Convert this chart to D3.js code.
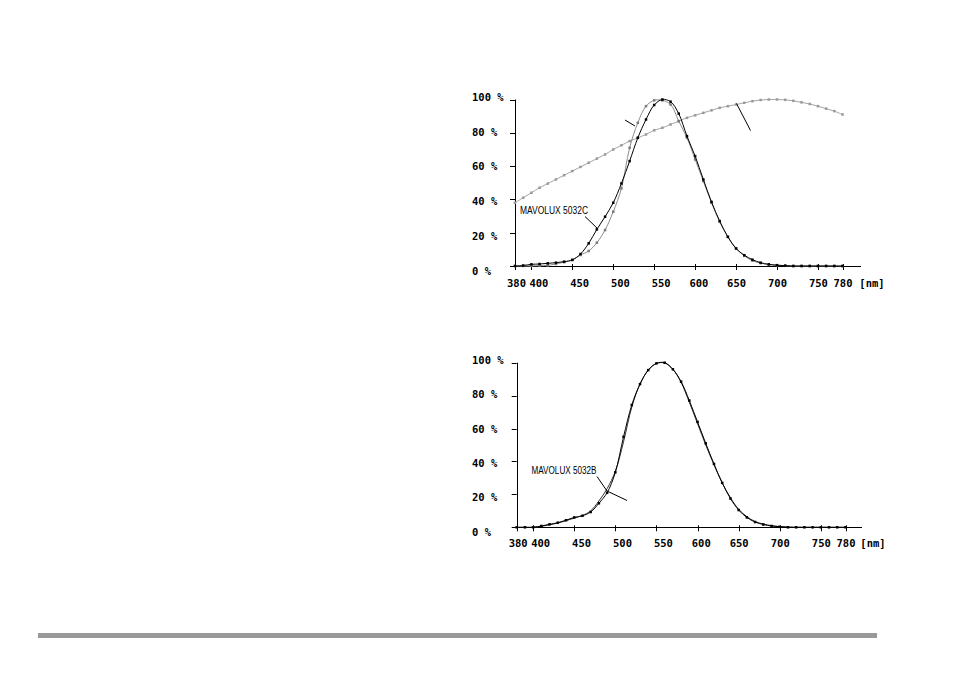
<!DOCTYPE html>
<html><head><meta charset="utf-8">
<script src="https://cdn.jsdelivr.net/npm/d3@7"></script>
<style>
html,body{margin:0;padding:0;background:#fff;}
svg{display:block;}
</style></head>
<body>
<svg id="c" width="954" height="677"></svg>
<script>
// ---------- data ----------
const wavelengths = [380,390,400,410,420,430,440,450,460,470,480,490,500,510,520,530,540,550,560,570,580,590,600,610,620,630,640,650,660,670,680,690,700,710,720,730,740,750,760,770,780];
const xTickValues = [380,400,450,500,550,600,650,700,750,780];
const yTickValues = [0,20,40,60,80,100];
const yTickLabels = ["0 %","20 %","40 %","60 %","80 %","100 %"];
const unitLabel = "[nm]";

// top chart
const topLamp   = [38,41,44,47,49.5,52,54.5,57,59.5,62,64.5,67,70,72.5,75,77,79,81.5,83,85,87,89,90.5,92,93.5,95,96,97,98,99,99.7,100,100,99.8,99.2,98.3,97.3,96,94.5,93,91];
const topSensorC= [0,0.3,1,1.2,1.6,2,2.6,3.6,7.2,13.6,22,29.6,38,49.6,63,77,88,96.7,100,98.7,91.5,78,66,52,38.5,27,17.5,10.5,6.5,3.8,2,1,0.5,0.2,0,0,0,0,0,0,0];
const topVlambda= [0,0,0.1,0.2,0.4,1.2,2.3,3.8,6.6,9,14,21.6,32.6,46.6,71,86,96,99.5,99.5,97,87,77,64,51,38,26.5,17.5,10.7,6.1,3.2,1.7,0.8,0.4,0.2,0,0,0,0,0,0,0];
const topLabel = "MAVOLUX 5032C";

// bottom chart
const botVlambda= [0,0,0,0.8,1.8,2.8,4.3,6,7,9.3,14.6,21,33.4,55,74.3,87,95.5,99.6,100,96,88.5,77,64,51,38.5,27,17.5,10.5,6,3.2,1.7,0.8,0.3,0,0,0,0,0,0,0,0];
const botSensorB= [0,0,0,0.6,1.5,2.6,4,5.6,7.2,10,16,23.5,34,52,73,87,95.5,99.5,99.8,96,88,76,63,50,38,27,18,11,6.5,3.5,2,1,0.5,0.2,0,0,0,0,0,0,0];
const botLabel = "MAVOLUX 5032B";

// ---------- drawing ----------
const svg = d3.select("#c");
const FONT = "'DejaVu Sans Mono', monospace";

function drawChart(cfg){
  const g = svg.append("g");
  const x = d3.scaleLinear().domain([380,780]).range([cfg.x0, cfg.x1]);
  const y = d3.scaleLinear().domain([0,100]).range([cfg.y0, cfg.y1]);
  const xl = d3.scaleLinear().domain([380,400,550,650,780])
    .range([x(380)+1.5, x(400)+7.5, x(550)+7, x(650)+0.5, x(780)+0.5]);
  const yl = d3.scaleLinear().domain([100,0]).range([cfg.yl100, cfg.yl0]);

  g.append("line").attr("x1",x(380)-2).attr("x2",cfg.xEnd).attr("y1",Math.round(y(0))+0.5).attr("y2",Math.round(y(0))+0.5)
    .attr("stroke","#000").attr("stroke-width",1);
  g.append("line").attr("x1",Math.round(x(380))+0.5).attr("x2",Math.round(x(380))+0.5).attr("y1",y(0)).attr("y2",y(100))
    .attr("stroke","#000").attr("stroke-width",1);
  g.selectAll(".xt").data(xTickValues).join("line")
    .attr("x1",d=>Math.round(x(d))+0.5).attr("x2",d=>Math.round(x(d))+0.5)
    .attr("y1",y(0)-2).attr("y2",y(0)+4).attr("stroke","#000");
  g.selectAll(".yt").data(yTickValues).join("line")
    .attr("x1",x(380)-5).attr("x2",x(380))
    .attr("y1",d=>Math.round(y(d))+0.5).attr("y2",d=>Math.round(y(d))+0.5).attr("stroke","#000");
  g.selectAll(".xl").data(xTickValues).join("text")
    .attr("x",d=>xl(d)).attr("y",cfg.xlY).attr("text-anchor","middle")
    .attr("dominant-baseline","central")
    .attr("font-family",FONT).attr("font-weight","bold").attr("font-size",10.5)
    .text(d=>d);
  g.append("text").attr("x",cfg.unitX).attr("y",cfg.xlY).attr("text-anchor","middle")
    .attr("dominant-baseline","central")
    .attr("font-family",FONT).attr("font-weight","bold").attr("font-size",10.5).text(unitLabel);
  g.selectAll(".yl").data(yTickValues).join("text")
    .attr("x",472).attr("y",d=>yl(d)).attr("dominant-baseline","central")
    .attr("font-family",FONT).attr("font-weight","bold").attr("font-size",10.5)
    .text((d,i)=>yTickLabels[i]);

  const line = d3.line().x((d,i)=>x(wavelengths[i])).y(d=>y(d)).curve(d3.curveCatmullRom.alpha(0.5));
  cfg.series.forEach(s=>{
    g.append("path").attr("d",line(s.values)).attr("fill","none")
      .attr("stroke",s.color).attr("stroke-width",s.width||1);
    if(s.markers){
      const m = s.msize||2.5;
      g.selectAll(null).data(s.values).join("rect")
        .attr("x",(d,i)=>x(wavelengths[i])-m/2).attr("y",d=>y(d)-m/2)
        .attr("width",m).attr("height",m).attr("fill",s.markerColor||s.color);
    }
  });

  g.append("text").attr("x",cfg.label.x).attr("y",cfg.label.y).attr("dominant-baseline","central")
    .attr("font-family","'Liberation Sans Narrow','Liberation Sans',Arial,sans-serif")
    .attr("font-size",10).attr("textLength",cfg.label.len).attr("lengthAdjust","spacingAndGlyphs")
    .attr("fill","#000").text(cfg.label.text);
  cfg.leaders.forEach(pts=>{
    g.append("path").attr("d",d3.line()(pts)).attr("fill","none").attr("stroke","#000").attr("stroke-width",1);
  });
}

drawChart({
  x0:515, x1:842.5, y0:266, y1:99.5, xEnd:861,
  yl100:96.7, yl0:270.7, xlY:282.7, unitX:872,
  series:[
    {values:topLamp, color:"#a6a6a6", markers:true, markerColor:"#999", msize:2.5},
    {values:topVlambda, color:"#8c8c8c", markers:true, markerColor:"#7a7a7a", msize:2.5},
    {values:topSensorC, color:"#000", markers:true, msize:2.5}
  ],
  label:{text:topLabel, x:520, y:210, len:68},
  leaders:[[[585,216.5],[598,229]], [[625,120],[635,126]], [[736.5,103.5],[750.5,130.5]]]
});

drawChart({
  x0:516.7, x1:845.5, y0:527.3, y1:362.7, xEnd:862,
  yl100:360, yl0:531.7, xlY:542.7, unitX:873,
  series:[
    {values:botSensorB, color:"#333", markers:false},
    {values:botVlambda, color:"#000", markers:true, msize:2.5}
  ],
  label:{text:botLabel, x:531.5, y:470, len:65},
  leaders:[[[597,476.5],[607,491],[627,500.5]]]
});

svg.append("rect").attr("x",38).attr("y",633).attr("width",839).attr("height",5).attr("fill","#999");
</script>
</body></html>
